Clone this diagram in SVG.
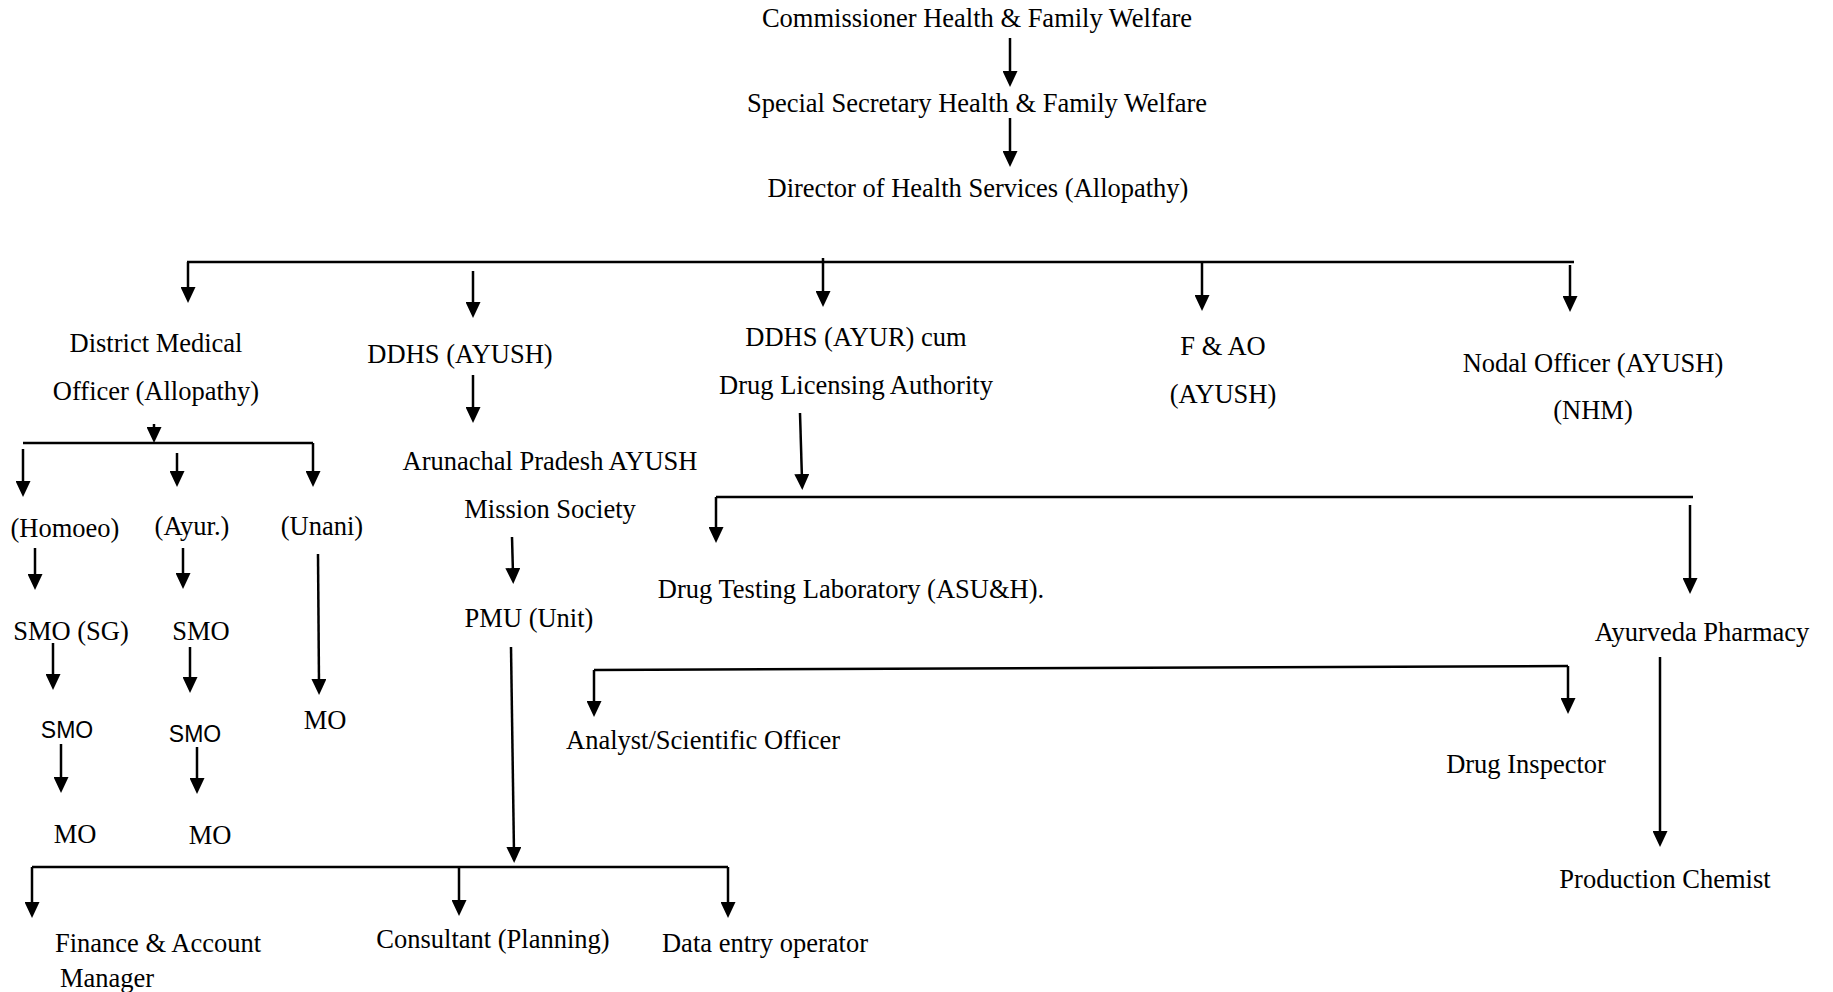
<svg xmlns="http://www.w3.org/2000/svg" width="1833" height="992" viewBox="0 0 1833 992">
<style>
  text { font-family: "Liberation Serif", "Times New Roman", serif; font-size: 26.5px; fill: #000; text-anchor: middle; }
  text.sans { font-family: "Liberation Sans", Arial, sans-serif; font-size: 23px; }
  .c line, .c path { stroke: #000; stroke-width: 2.5; fill: none; }
  .c .arr { marker-end: url(#ah); }
</style>
<defs>
  <marker id="ah" viewBox="0 0 16 15" refX="6" refY="7.5" markerWidth="16" markerHeight="15" markerUnits="userSpaceOnUse" orient="auto">
    <path d="M0,0 L16,7.5 L0,15 z" fill="#000"/>
  </marker>
</defs>
<rect width="1833" height="992" fill="#fff"/>

<g id="connectors" class="c">
  <line class="arr" x1="1010" y1="38" x2="1010" y2="77"/>
  <line class="arr" x1="1010" y1="118" x2="1010" y2="157"/>
  <line x1="187" y1="262" x2="1574" y2="262"/>
  <line class="arr" x1="188" y1="262" x2="188" y2="293"/>
  <line class="arr" x1="473" y1="271" x2="473" y2="308"/>
  <line class="arr" x1="823" y1="258" x2="823" y2="297"/>
  <line class="arr" x1="1202" y1="262" x2="1202" y2="301"/>
  <line class="arr" x1="1570" y1="265" x2="1570" y2="302"/>

  <line class="arr" x1="154" y1="424" x2="154" y2="433"/>
  <line x1="23" y1="443" x2="313" y2="443"/>
  <line class="arr" x1="23" y1="449" x2="23" y2="487"/>
  <line class="arr" x1="177" y1="453" x2="177" y2="477"/>
  <line class="arr" x1="313" y1="443" x2="313" y2="477"/>
  <line class="arr" x1="35" y1="548" x2="35" y2="580"/>
  <line class="arr" x1="183" y1="548" x2="183" y2="579"/>
  <line class="arr" x1="318" y1="554" x2="319" y2="685"/>
  <line class="arr" x1="53" y1="643" x2="53" y2="680"/>
  <line class="arr" x1="190" y1="647" x2="190" y2="683"/>
  <line class="arr" x1="61" y1="744" x2="61" y2="783"/>
  <line class="arr" x1="197" y1="747" x2="197" y2="784"/>

  <line class="arr" x1="473" y1="375" x2="473" y2="413"/>
  <line class="arr" x1="512" y1="537" x2="513" y2="574"/>
  <line class="arr" x1="511" y1="647" x2="514" y2="853"/>
  <line x1="32" y1="867" x2="728" y2="867"/>
  <line class="arr" x1="32" y1="867" x2="32" y2="908"/>
  <line class="arr" x1="459" y1="867" x2="459" y2="906"/>
  <line class="arr" x1="728" y1="867" x2="728" y2="908"/>

  <line class="arr" x1="800" y1="413" x2="802" y2="480"/>
  <line x1="716" y1="497" x2="1693" y2="497"/>
  <line class="arr" x1="716" y1="497" x2="716" y2="533"/>
  <line class="arr" x1="1690" y1="505" x2="1690" y2="584"/>
  <line class="arr" x1="1660" y1="657" x2="1660" y2="837"/>
  <line x1="594" y1="670" x2="1568" y2="666"/>
  <line class="arr" x1="594" y1="670" x2="594" y2="707"/>
  <line class="arr" x1="1568" y1="666" x2="1568" y2="704"/>
</g>

<g id="commissioner"><text x="977" y="27">Commissioner Health &amp; Family Welfare</text></g>
<g id="special-secretary"><text x="977" y="112">Special Secretary Health &amp; Family Welfare</text></g>
<g id="director"><text x="978" y="197">Director of Health Services (Allopathy)</text></g>

<g id="dmo"><text x="156" y="352">District Medical</text><text x="156" y="400">Officer (Allopathy)</text></g>
<g id="ddhs-ayush"><text x="460" y="363">DDHS (AYUSH)</text></g>
<g id="ddhs-ayur"><text x="856" y="346">DDHS (AYUR) cum</text><text x="856" y="394">Drug Licensing Authority</text></g>
<g id="fao"><text x="1223" y="355">F &amp; AO</text><text x="1223" y="403">(AYUSH)</text></g>
<g id="nodal"><text x="1593" y="372">Nodal Officer (AYUSH)</text><text x="1593" y="419">(NHM)</text></g>

<g id="homoeo"><text x="65" y="537">(Homoeo)</text></g>
<g id="ayur"><text x="192" y="535">(Ayur.)</text></g>
<g id="unani"><text x="322" y="535">(Unani)</text></g>
<g id="smo-sg"><text x="71" y="640">SMO (SG)</text></g>
<g id="smo-ayur"><text x="201" y="640">SMO</text></g>
<g id="smo-homoeo"><text class="sans" x="67" y="738">SMO</text></g>
<g id="smo-ayur2"><text class="sans" x="195" y="742">SMO</text></g>
<g id="mo-unani"><text x="325" y="729">MO</text></g>
<g id="mo-homoeo"><text x="75" y="843">MO</text></g>
<g id="mo-ayur"><text x="210" y="844">MO</text></g>

<g id="apams"><text x="550" y="470">Arunachal Pradesh AYUSH</text><text x="550" y="518">Mission Society</text></g>
<g id="pmu"><text x="529" y="627">PMU (Unit)</text></g>
<g id="finance"><text x="158" y="952">Finance &amp; Account</text><text x="60" y="987" style="text-anchor:start">Manager</text></g>
<g id="consultant"><text x="493" y="948">Consultant (Planning)</text></g>
<g id="data-entry"><text x="765" y="952">Data entry operator</text></g>

<g id="dtl"><text x="851" y="598">Drug Testing Laboratory (ASU&amp;H).</text></g>
<g id="pharmacy"><text x="1702" y="641">Ayurveda Pharmacy</text></g>
<g id="analyst"><text x="703" y="749">Analyst/Scientific Officer</text></g>
<g id="inspector"><text x="1526" y="773">Drug Inspector</text></g>
<g id="chemist"><text x="1665" y="888">Production Chemist</text></g>
</svg>
